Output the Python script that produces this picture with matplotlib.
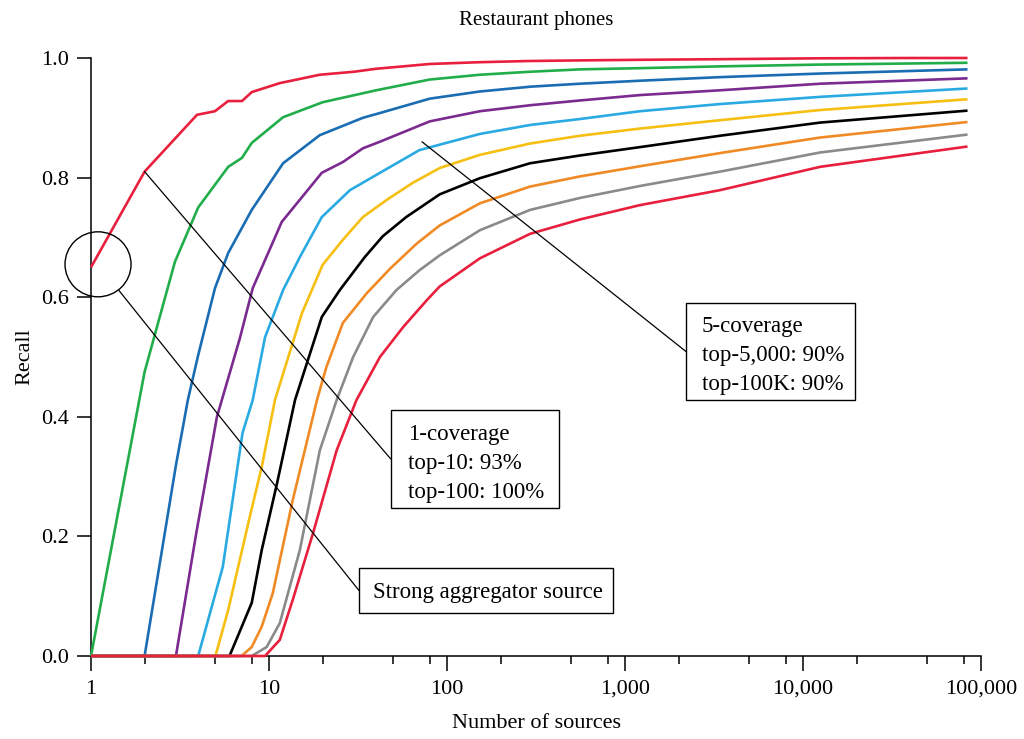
import matplotlib
matplotlib.use('Agg')
import matplotlib.pyplot as plt
import matplotlib.ticker as mticker
from matplotlib.patches import Ellipse, Rectangle

plt.rcParams['font.family'] = ['Liberation Serif', 'DejaVu Serif']

# ---------------- data ----------------
cov1_x = [1, 2, 3.94, 4.97, 5.89, 7.05, 8.0, 11.5, 19.3, 30, 40, 80, 153, 293, 559, 1214, 3420, 12470, 40000, 84000]
cov1_y = [0.65, 0.81, 0.905, 0.911, 0.928, 0.928, 0.943, 0.958, 0.972, 0.977, 0.982, 0.990, 0.993, 0.995, 0.996, 0.997, 0.998, 0.9995, 1.0, 1.0]

cov2_x = [1, 2, 2.96, 4.0, 5.9, 7.05, 8.0, 12, 20, 40, 80, 153, 293, 559, 1214, 3420, 12470, 84000]
cov2_y = [0, 0.475, 0.659, 0.75, 0.818, 0.833, 0.858, 0.901, 0.926, 0.946, 0.964, 0.972, 0.977, 0.981, 0.983, 0.986, 0.989, 0.992]

cov3_x = [1, 2, 3, 3.5, 4, 4.97, 5.9, 8.0, 12, 19.3, 33.7, 42, 80, 153, 293, 559, 1214, 3420, 12470, 84000]
cov3_y = [0, 0, 0.319, 0.428, 0.503, 0.615, 0.674, 0.746, 0.824, 0.871, 0.9, 0.908, 0.932, 0.944, 0.952, 0.957, 0.962, 0.968, 0.974, 0.981]

cov4_x = [1, 3, 3.9, 5.1, 6.87, 8.1, 11.8, 19.8, 26, 33.7, 42, 80, 153, 293, 559, 1214, 3420, 12470, 84000]
cov4_y = [0, 0, 0.205, 0.40, 0.532, 0.615, 0.726, 0.808, 0.826, 0.849, 0.86, 0.894, 0.911, 0.921, 0.929, 0.938, 0.946, 0.957, 0.966]

cov5_x = [1, 4, 5.5, 7.1, 8.1, 9.5, 12, 14.9, 19.8, 28.5, 42, 70, 153, 293, 559, 1214, 3420, 12470, 84000]
cov5_y = [0, 0, 0.149, 0.373, 0.428, 0.533, 0.612, 0.667, 0.734, 0.779, 0.808, 0.846, 0.873, 0.888, 0.898, 0.911, 0.923, 0.935, 0.949]

cov6_x = [1, 5, 5.9, 7.8, 9.1, 10.8, 15.3, 20, 26, 33.7, 46, 64, 91, 153, 293, 559, 1214, 3420, 12470, 84000]
cov6_y = [0, 0, 0.077, 0.233, 0.316, 0.428, 0.573, 0.654, 0.696, 0.734, 0.763, 0.791, 0.816, 0.838, 0.857, 0.870, 0.882, 0.896, 0.913, 0.931]

cov7_x = [1, 6, 8.0, 9.1, 11.1, 14.0, 19.8, 25, 34.5, 43.6, 59, 91, 153, 293, 559, 1214, 3420, 12470, 84000]
cov7_y = [0, 0, 0.089, 0.177, 0.289, 0.428, 0.567, 0.612, 0.667, 0.702, 0.734, 0.772, 0.799, 0.824, 0.837, 0.851, 0.870, 0.892, 0.912]

cov8_x = [1, 7, 8.0, 9.1, 10.5, 13.6, 18.6, 21, 26, 35.5, 48, 67.8, 91, 153, 293, 559, 1214, 3420, 12470, 84000]
cov8_y = [0, 0, 0.015, 0.049, 0.105, 0.261, 0.428, 0.483, 0.557, 0.607, 0.648, 0.69, 0.720, 0.757, 0.785, 0.802, 0.819, 0.841, 0.867, 0.893]

cov9_x = [1, 8, 9.7, 11.5, 14.9, 19.3, 24, 29.7, 38.5, 52, 70, 91, 153, 293, 559, 1214, 3420, 12470, 84000]
cov9_y = [0, 0, 0.015, 0.055, 0.177, 0.344, 0.428, 0.5, 0.567, 0.612, 0.645, 0.670, 0.712, 0.746, 0.766, 0.786, 0.810, 0.842, 0.872]

cov10_x = [1, 9.5, 11.5, 13.6, 17.7, 24, 31, 42, 56.7, 77, 91, 153, 293, 559, 1214, 3420, 12470, 84000]
cov10_y = [0, 0, 0.027, 0.094, 0.206, 0.344, 0.428, 0.5, 0.55, 0.595, 0.618, 0.665, 0.706, 0.730, 0.754, 0.779, 0.818, 0.852]

series_x = [cov1_x, cov2_x, cov3_x, cov4_x, cov5_x, cov6_x, cov7_x, cov8_x, cov9_x, cov10_x]
series_y = [cov1_y, cov2_y, cov3_y, cov4_y, cov5_y, cov6_y, cov7_y, cov8_y, cov9_y, cov10_y]
colors = ['#e8203e', '#22ad4b', '#1b6db3', '#7b2a8f', '#2aaae2', '#f6bf12',
          '#000000', '#f08a24', '#8a8a8a', '#e8203e']

y_ticks = [0.0, 0.2, 0.4, 0.6, 0.8, 1.0]
x_ticks = [1, 10, 100, 1000, 10000, 100000]

title = 'Restaurant phones'
x_label = 'Number of sources'
y_label = 'Recall'
note_1cov = '1-coverage\ntop-10: 93%\ntop-100: 100%'
note_5cov = '5-coverage\ntop-5,000: 90%\ntop-100K: 90%'
note_agg = 'Strong aggregator source'
point_1cov = (2, 0.81)
point_5cov = (72.3, 0.86)

# ---------------- figure ----------------
fig = plt.figure(figsize=(10.24, 7.39), dpi=100)
ax = fig.add_axes([91 / 1024, 83 / 739, 890 / 1024, 598 / 739])

for xs, ys, c in zip(series_x, series_y, colors):
    ax.plot(xs, ys, color=c, lw=1.9, clip_on=False, zorder=3,
            solid_joinstyle='round', solid_capstyle='butt')

ax.set_xscale('log')
ax.set_xlim(1, 100000)
ax.set_ylim(0, 1.0)

ax.xaxis.set_major_locator(mticker.FixedLocator(x_ticks))
ax.xaxis.set_major_formatter(mticker.FuncFormatter(lambda v, p: f'{int(round(v)):,}'))
ax.xaxis.set_minor_locator(mticker.LogLocator(base=10, subs=[2, 5, 8], numticks=20))
ax.xaxis.set_minor_formatter(mticker.NullFormatter())
ax.set_yticks(y_ticks)
ax.yaxis.set_major_formatter(mticker.FormatStrFormatter('%.1f'))

for s in ['top', 'right']:
    ax.spines[s].set_visible(False)
for s in ['left', 'bottom']:
    ax.spines[s].set_linewidth(1.1)

ax.tick_params(axis='x', which='major', length=11, width=1.1, pad=6, labelsize=16)
ax.tick_params(axis='x', which='minor', length=5.5, width=1.1)
ax.tick_params(axis='y', which='major', length=10, width=1.1, pad=6, labelsize=16)

ax.set_title(title, fontsize=15, pad=24)
ax.set_xlabel(x_label, fontsize=16, labelpad=11)
ax.set_ylabel(y_label, fontsize=16, labelpad=5)

# ---------------- annotations ----------------
tr = ax.transAxes
box_kw = dict(transform=tr, fill=True, fc='white', ec='black', lw=1.0, zorder=21, clip_on=False)
line_kw = dict(arrowstyle='-', color='black', lw=0.9, shrinkA=0, shrinkB=0)

# 1-coverage box
b1 = (0.3367, 0.2480, 0.1888, 0.1634)
ax.add_patch(Rectangle(b1[:2], b1[2], b1[3], **box_kw))
ax.text(0.3562, b1[1] + b1[3] / 2 - 0.008, note_1cov, transform=tr, ha='left', va='center',
        fontsize=16.5, linespacing=1.5, zorder=22)
ax.annotate('', xy=point_1cov, xycoords='data', xytext=(b1[0], b1[1] + b1[3] / 2),
            textcoords='axes fraction', arrowprops=line_kw, zorder=20)

# 5-coverage box
b3 = (0.6685, 0.4281, 0.1899, 0.1622)
ax.add_patch(Rectangle(b3[:2], b3[2], b3[3], **box_kw))
ax.text(0.6862, b3[1] + b3[3] / 2 - 0.007, note_5cov, transform=tr, ha='left', va='center',
        fontsize=16.5, linespacing=1.5, zorder=22)
ax.annotate('', xy=point_5cov, xycoords='data', xytext=(b3[0], b3[1] + b3[3] / 2),
            textcoords='axes fraction', arrowprops=line_kw, zorder=20)

# strong aggregator: circle + box
ell = Ellipse((0.0079, 0.655), 0.0742, 0.1087, transform=tr, fill=False, ec='black',
              lw=1.0, clip_on=False, zorder=20)
ax.add_patch(ell)
b2 = (0.3011, 0.0714, 0.2851, 0.0763)
ax.add_patch(Rectangle(b2[:2], b2[2], b2[3], **box_kw))
ax.text(0.3165, b2[1] + b2[3] / 2 - 0.003, note_agg, transform=tr, ha='left', va='center',
        fontsize=16.5, zorder=22)
ax.annotate('', xy=(0.0079, 0.655), xycoords='axes fraction',
            xytext=(b2[0], b2[1] + b2[3] / 2), textcoords='axes fraction',
            arrowprops=dict(line_kw, patchB=ell), zorder=20)

fig.savefig('out.png', dpi=100)
